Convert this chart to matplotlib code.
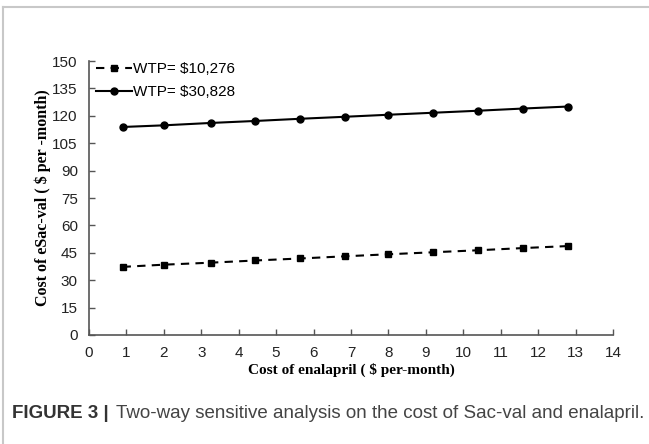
import numpy as np
import matplotlib.pyplot as plt
from matplotlib.lines import Line2D

# enalapril cost per month and threshold Sac-val cost at two WTP levels
enalapril = [0.9, 2.0, 3.25, 4.45, 5.65, 6.85, 8.0, 9.2, 10.4, 11.6, 12.8]
wtp_low = [37.3, 38.5, 39.6, 40.8, 41.9, 43.1, 44.2, 45.3, 46.4, 47.6, 48.7]
wtp_high = [113.9, 114.8, 116.1, 117.2, 118.4, 119.5, 120.6, 121.7, 122.8, 124.0, 125.1]
labels = ["WTP= $10,276", "WTP= $30,828"]
xticks = list(range(0, 15))
yticks = list(range(0, 151, 15))

fig = plt.figure(figsize=(6.49, 4.44), dpi=100)
ax = fig.add_axes([0.137, 0.2455, 0.8075, 0.617])

ax.plot(enalapril, wtp_low, color="black", lw=1.5, ls=(0, (4, 3)),
        marker="s", ms=5, label=labels[0])
ax.plot(enalapril, wtp_high, color="black", lw=1.5, ls="-",
        marker="o", ms=5, label=labels[1])

ax.set_xlim(0, 14)
ax.set_ylim(0, 150)
ax.set_xticks(xticks)
ax.set_yticks(yticks)
for s in ["top", "right"]:
    ax.spines[s].set_visible(False)
for s in ["left", "bottom"]:
    ax.spines[s].set_color("#555555")
    ax.spines[s].set_linewidth(1.2)
ax.tick_params(direction="in", length=4, width=1, color="#555555",
               labelsize=11, labelcolor="#222222")
for t in ax.get_xticklabels() + ax.get_yticklabels():
    t.set_family("Liberation Sans")
ax.tick_params(axis="x", pad=8)
ax.tick_params(axis="y", pad=8)

ax.set_xlabel("Cost of enalapril ( $ per-month)", family="Liberation Serif",
              fontweight="bold", fontsize=11, labelpad=2)
ax.set_ylabel("Cost of eSac-val ( $ per -month)", family="Liberation Serif",
              fontweight="bold", fontsize=11.5, labelpad=1)

leg = ax.legend(loc="upper left", bbox_to_anchor=(-0.012, 1.045), frameon=False,
                prop={"family": "Liberation Sans", "size": 11},
                handlelength=2.3, handletextpad=0.1, labelspacing=0.55)

# light frame round the figure panel
fig.add_artist(Line2D([0.005, 1.0], [0.984, 0.984], color="#c8c8c8", lw=1.5))
fig.add_artist(Line2D([0.005, 0.005], [0.0, 0.984], color="#c8c8c8", lw=1.5))

head = fig.text(0.018, 0.058, "FIGURE 3 |", family="Liberation Sans", fontweight="bold",
                fontsize=13.5, color="#333333")
fig.canvas.draw()
bb = head.get_window_extent().transformed(fig.transFigure.inverted())
fig.text(bb.x1 + 0.012, 0.058,
         "Two-way sensitive analysis on the cost of Sac-val and enalapril.",
         family="Liberation Sans", fontsize=13.5, color="#444444")

fig.savefig("out.png", dpi=100)
